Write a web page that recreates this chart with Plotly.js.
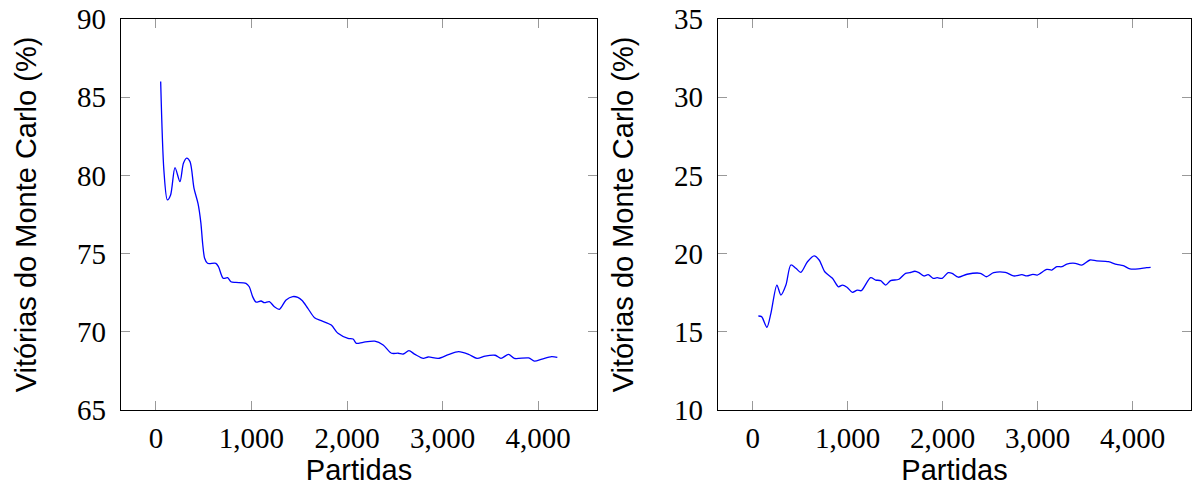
<!DOCTYPE html>
<html>
<head>
<meta charset="utf-8">
<script src="https://cdn.plot.ly/plotly-3.0.1.min.js"></script>
<style>html,body{margin:0;padding:0;background:#fff;}#chart{width:1194px;height:488px;}</style>
</head>
<body>
<div id="chart"></div>
<script>
// Left panel: Monte Carlo win rate (%)
const leftGames = [50, 84, 120, 154, 200, 252, 288, 322, 357, 399, 441, 470, 490, 510, 540, 627, 655, 704, 750, 785, 837, 942, 977, 1012, 1047, 1100, 1135, 1187, 1240, 1292, 1362, 1432, 1485, 1530, 1590, 1660, 1730, 1835, 1905, 2010, 2063, 2098, 2168, 2290, 2378, 2465, 2535, 2588, 2647, 2710, 2798, 2850, 2955, 3060, 3167, 3272, 3360, 3445, 3550, 3610, 3690, 3750, 3900, 3960, 4040, 4140, 4200];
const leftWins = [86.0, 80.3, 78.43, 78.75, 80.5, 79.6, 80.77, 81.1, 80.88, 79.17, 78.2, 77.0, 75.6, 74.7, 74.38, 74.38, 74.16, 73.42, 73.46, 73.2, 73.16, 73.1, 72.88, 72.25, 71.9, 71.97, 71.86, 71.93, 71.6, 71.44, 72.03, 72.25, 72.2, 72.0, 71.5, 70.9, 70.71, 70.43, 69.9, 69.58, 69.54, 69.26, 69.33, 69.4, 69.16, 68.63, 68.63, 68.58, 68.79, 68.56, 68.3, 68.39, 68.3, 68.54, 68.73, 68.56, 68.3, 68.45, 68.5, 68.3, 68.56, 68.3, 68.33, 68.13, 68.26, 68.41, 68.37];

// Right panel: Monte Carlo win rate (%)
const rightGames = [60, 94, 150, 192, 255, 297, 350, 402, 455, 507, 577, 647, 700, 759, 840, 903, 945, 993, 1050, 1102, 1144, 1242, 1295, 1347, 1400, 1452, 1540, 1610, 1655, 1708, 1750, 1802, 1848, 1900, 1942, 1995, 2058, 2100, 2165, 2257, 2397, 2460, 2537, 2660, 2747, 2835, 2887, 2950, 2997, 3097, 3150, 3202, 3255, 3307, 3395, 3465, 3552, 3622, 3745, 3832, 3902, 3972, 4060, 4147, 4190];
const rightWins = [16.01, 15.97, 15.29, 16.18, 17.99, 17.35, 17.99, 19.27, 19.06, 18.8, 19.48, 19.85, 19.59, 18.84, 18.42, 17.88, 17.99, 17.85, 17.52, 17.67, 17.63, 18.46, 18.31, 18.27, 17.99, 18.27, 18.36, 18.74, 18.78, 18.87, 18.78, 18.57, 18.65, 18.42, 18.46, 18.42, 18.78, 18.74, 18.49, 18.68, 18.74, 18.52, 18.78, 18.8, 18.57, 18.65, 18.57, 18.67, 18.63, 18.99, 18.95, 19.16, 19.16, 19.33, 19.38, 19.27, 19.59, 19.53, 19.48, 19.31, 19.23, 19.02, 19.02, 19.1, 19.12];

const xTickVals = [0, 1000, 2000, 3000, 4000];
const xTickText = ['0', '1,000', '2,000', '3,000', '4,000'];
const leftYTicks = [65, 70, 75, 80, 85, 90];
const rightYTicks = [10, 15, 20, 25, 30, 35];
const xTitle = 'Partidas';
const yTitle = 'Vitórias do Monte Carlo (%)';

const lineStyle = {color: '#0000ff', width: 1.3, shape: 'spline', smoothing: 0.8};

const traces = [
  {x: leftGames, y: leftWins, type: 'scatter', mode: 'lines', line: lineStyle, xaxis: 'x', yaxis: 'y', hoverinfo: 'x+y'},
  {x: rightGames, y: rightWins, type: 'scatter', mode: 'lines', line: lineStyle, xaxis: 'x2', yaxis: 'y2', hoverinfo: 'x+y'}
];

const tickFont = {family: 'Liberation Serif, DejaVu Serif, serif', size: 29, color: '#000'};
const titleFont = {family: 'Liberation Sans, Arial, sans-serif', size: 29, color: '#000'};

function xAxis(domain, anchor) {
  return {
    domain: domain, anchor: anchor, range: [-365, 4615],
    tickvals: xTickVals, ticktext: xTickText,
    ticks: 'inside', ticklen: 9, tickwidth: 1, tickcolor: '#999',
    showline: true, linecolor: '#000', linewidth: 1.3, mirror: 'ticks',
    showgrid: false, zeroline: false,
    tickfont: tickFont, ticklabelstandoff: 2,
    title: {text: xTitle, font: titleFont, standoff: 0}
  };
}
function yAxis(domain, anchor, range, ticks) {
  return {
    domain: domain, anchor: anchor, range: range,
    tickvals: ticks,
    ticks: 'inside', ticklen: 9, tickwidth: 1, tickcolor: '#999',
    showline: true, linecolor: '#000', linewidth: 1.3, mirror: 'ticks',
    showgrid: false, zeroline: false,
    tickfont: tickFont, ticklabelstandoff: 8,
    title: {text: yTitle, font: titleFont, standoff: 31}
  };
}

const yDom = [1 - 410 / 488, 1 - 19 / 488];
const layout = {
  width: 1194, height: 488,
  margin: {l: 0, r: 0, t: 0, b: 0},
  paper_bgcolor: '#fff', plot_bgcolor: '#fff',
  showlegend: false,
  xaxis: xAxis([121 / 1194, 597 / 1194], 'y'),
  yaxis: yAxis(yDom, 'x', [65, 90], leftYTicks),
  xaxis2: xAxis([718 / 1194, 1191 / 1194], 'y2'),
  yaxis2: yAxis(yDom, 'x2', [10, 35], rightYTicks)
};

Plotly.newPlot('chart', traces, layout, {displayModeBar: false, staticPlot: true});
</script>
</body>
</html>
